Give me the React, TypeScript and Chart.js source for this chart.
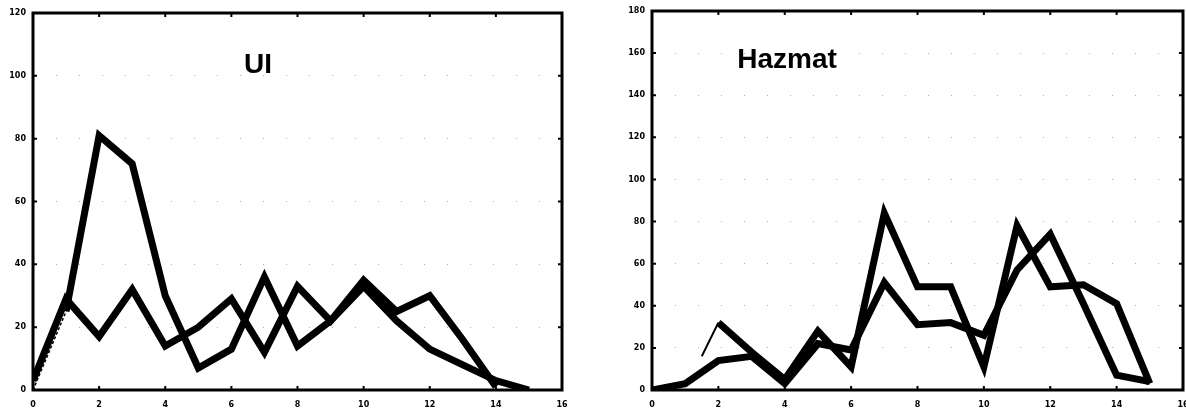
import React, { useEffect, useRef } from "react";
import { Chart, registerables } from "chart.js";

Chart.register(...registerables);

// ---- Data ----
const uiX = [0, 1, 2, 3, 4, 5, 6, 7, 8, 9, 10, 11, 12, 13, 14, 15];
const uiSeriesA = [0, 25, 81, 72, 30, 7, 13, 36, 14, 22, 33, 22, 13, 8, 3, 0];
const uiSeriesBX = [0, 1, 2, 3, 4, 5, 6, 7, 8, 9, 10, 11, 12, 13, 14];
const uiSeriesB = [3, 29, 17, 32, 14, 20, 29, 12, 33, 22, 35, 25, 30, 16, 1];

const hazX = [0, 1, 2, 3, 4, 5, 6, 7, 8, 9, 10, 11, 12, 13, 14, 15];
const hazSeriesC = [0, 3, 14, 16, 3, 22, 19, 51, 31, 32, 26, 57, 74, 41, 7, 4];
const hazSeriesDX = [1.5, 2, 3, 4, 5, 6, 7, 8, 9, 10, 11, 12, 13, 14, 15];
const hazSeriesD = [16, 32, 18, 5, 28, 11, 84, 49, 49, 11, 78, 49, 50, 41, 3];

const xTickMax = 16;
const xTickStep = 2;
const uiYMax = 120;
const hazYMax = 180;
const yTickStep = 20;

const uiTitle = "UI";
const hazTitle = "Hazmat";

function pts(xs: number[], ys: number[]) {
  return xs.map((x, i) => ({ x, y: ys[i] }));
}

function decoPlugin(title: string, titleCx: number, titleBase: number) {
  return {
    id: "deco",
    afterDatasetsDraw(chart: any) {
      const { ctx, chartArea: a, scales } = chart;
      ctx.save();
      ctx.strokeStyle = "#000";
      ctx.lineWidth = 2;
      const xs = scales.x;
      const ys = scales.y;
      const tl = 4;
      ctx.beginPath();
      xs.ticks.forEach((t: any) => {
        const px = xs.getPixelForValue(t.value);
        ctx.moveTo(px, a.bottom);
        ctx.lineTo(px, a.bottom - tl);
        ctx.moveTo(px, a.top);
        ctx.lineTo(px, a.top + tl);
      });
      ys.ticks.forEach((t: any) => {
        const py = ys.getPixelForValue(t.value);
        ctx.moveTo(a.left, py);
        ctx.lineTo(a.left + tl, py);
        ctx.moveTo(a.right, py);
        ctx.lineTo(a.right - tl, py);
      });
      ctx.stroke();
      ctx.lineWidth = 3;
      ctx.strokeRect(a.left, a.top, a.right - a.left, a.bottom - a.top);
      ctx.restore();
    },
    afterDraw(chart: any) {
      const { ctx, chartArea: a } = chart;
      ctx.save();
      ctx.fillStyle = "#000";
      ctx.font = "bold 28px 'Liberation Sans', Arial, sans-serif";
      ctx.textAlign = "center";
      ctx.textBaseline = "alphabetic";
      ctx.fillText(title, a.left + titleCx, titleBase);
      ctx.restore();
    },
  };
}

function buildConfig(opts: {
  datasets: any[];
  yMax: number;
  yWidth: number;
  padRight: number;
  padTop: number;
  title: string;
  titleCx: number;
  titleBase: number;
}) {
  const tickFont = { family: "'DejaVu Sans', sans-serif", size: 8, weight: "bold" as const };
  return {
    type: "line" as const,
    data: { datasets: opts.datasets },
    options: {
      animation: false as const,
      responsive: false,
      layout: { padding: { left: 0, top: opts.padTop, right: opts.padRight, bottom: 0 } },
      plugins: { legend: { display: false }, tooltip: { enabled: false }, title: { display: false } },
      elements: { point: { radius: 0 }, line: { tension: 0, borderJoinStyle: "miter" as const } },
      scales: {
        x: {
          type: "linear" as const,
          min: 0,
          max: xTickMax,
          ticks: { stepSize: xTickStep, color: "#000", font: tickFont, padding: 10, maxRotation: 0 },
          grid: { display: false, drawTicks: false },
          border: { display: false },
          afterFit: (s: any) => {
            s.height = 26;
            s.paddingLeft = 0;
            s.paddingRight = 0;
          },
        },
        y: {
          type: "linear" as const,
          min: 0,
          max: opts.yMax,
          ticks: { stepSize: yTickStep, color: "#000", font: tickFont, padding: 7 },
          grid: { display: true, drawTicks: false, color: "#b0b0b0", lineWidth: 1 },
          border: { display: false, dash: [1, 22] },
          afterFit: (s: any) => {
            s.width = opts.yWidth;
            s.paddingTop = 0;
            s.paddingBottom = 0;
          },
        },
      },
    },
    plugins: [decoPlugin(opts.title, opts.titleCx, opts.titleBase)],
  };
}

function thinFirst(width: number, dash: number[]) {
  return {
    borderWidth: (c: any) => (c.p0DataIndex === 0 ? width : undefined),
    borderDash: (c: any) => (c.p0DataIndex === 0 ? dash : undefined),
  };
}

const LW = 7;

export default function App() {
  const ref1 = useRef<HTMLCanvasElement>(null);
  const ref2 = useRef<HTMLCanvasElement>(null);

  useEffect(() => {
    const c1 = new Chart(
      ref1.current as HTMLCanvasElement,
      buildConfig({
        datasets: [
          {
            data: pts(uiX, uiSeriesA),
            borderColor: "#000",
            borderWidth: LW,
            fill: false,
            segment: thinFirst(1.5, [3, 2]),
          },
          {
            data: pts(uiSeriesBX, uiSeriesB),
            borderColor: "#000",
            borderWidth: LW,
            fill: false,
          },
        ],
        yMax: uiYMax,
        yWidth: 33,
        padRight: 28,
        padTop: 13,
        title: uiTitle,
        titleCx: 225,
        titleBase: 73,
      }) as any
    );
    const c2 = new Chart(
      ref2.current as HTMLCanvasElement,
      buildConfig({
        datasets: [
          {
            data: pts(hazX, hazSeriesC),
            borderColor: "#000",
            borderWidth: LW,
            fill: false,
          },
          {
            data: pts(hazSeriesDX, hazSeriesD),
            borderColor: "#000",
            borderWidth: LW,
            fill: false,
            segment: thinFirst(2, []),
          },
        ],
        yMax: hazYMax,
        yWidth: 52,
        padRight: 3,
        padTop: 11,
        title: hazTitle,
        titleCx: 135,
        titleBase: 68,
      }) as any
    );
    return () => {
      c1.destroy();
      c2.destroy();
    };
  }, []);

  return (
    <div style={{ position: "absolute", left: 0, top: 0, width: 1186, height: 416, background: "#fff" }}>
      <canvas ref={ref1} width={590} height={416} style={{ position: "absolute", left: 0, top: 0 }} />
      <canvas ref={ref2} width={586} height={416} style={{ position: "absolute", left: 600, top: 0 }} />
    </div>
  );
}
